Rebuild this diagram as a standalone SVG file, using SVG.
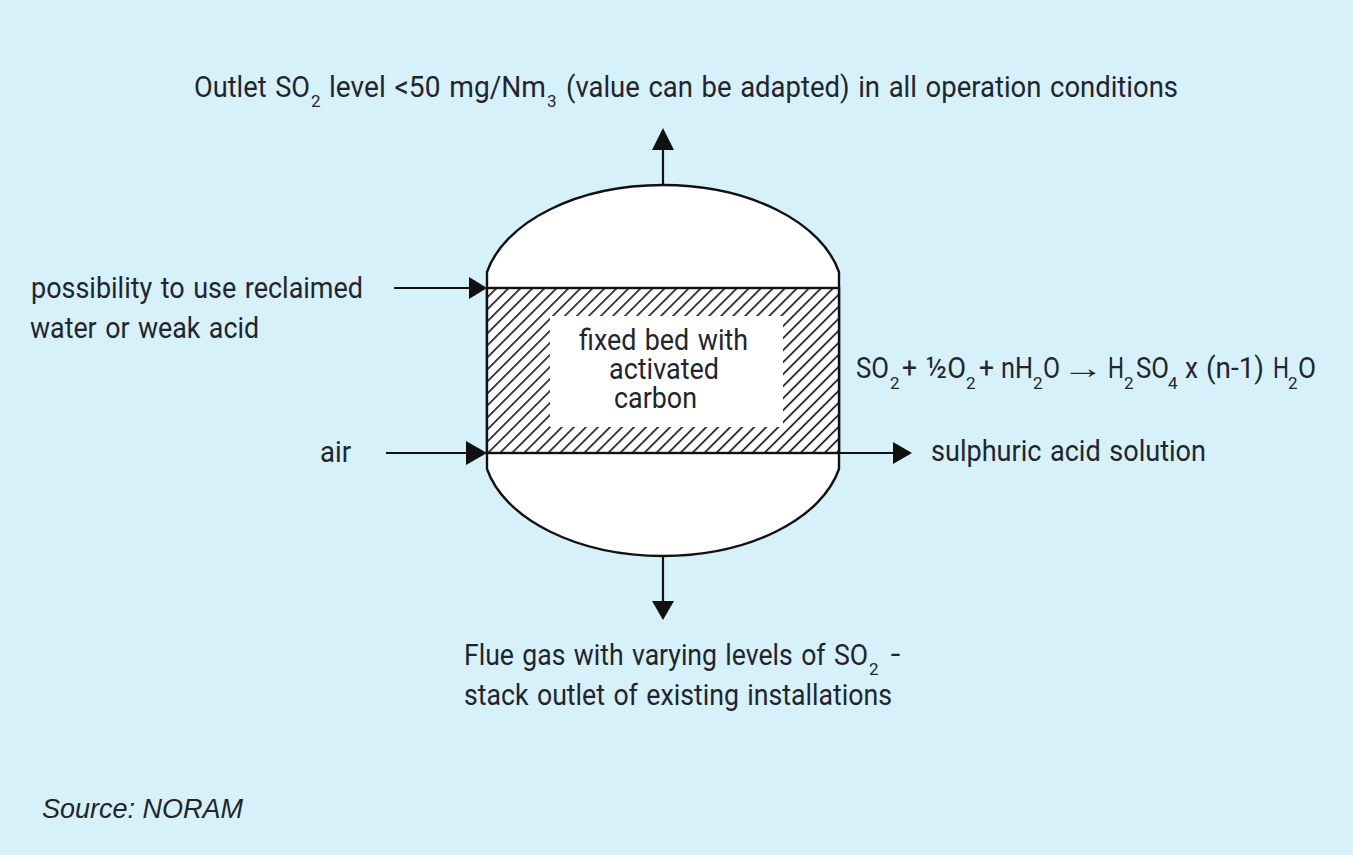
<svg xmlns="http://www.w3.org/2000/svg" width="1353" height="855" viewBox="0 0 1353 855">
<style>
.t{font-family:Roboto,"Liberation Sans",Arial,sans-serif;font-size:29.5px;fill:#22252e;word-spacing:2px}
.s{font-size:17px}
.v{stroke:#111;stroke-width:2.4px;fill:#fff}
.c{stroke:#111;stroke-width:2.2px;fill:none}
.h{fill:#111;stroke:none}
</style>
<defs>
<pattern id="hatch" patternUnits="userSpaceOnUse" width="8.5" height="8.5" patternTransform="rotate(45 487 288)">
<rect width="8.5" height="8.5" fill="#fff"/>
<line x1="0" y1="0" x2="0" y2="8.5" stroke="#111" stroke-width="3.2"/>
</pattern>
</defs>
<rect width="1353" height="855" fill="#d7f1fb"/>
<g id="vessel">
<path class="v" d="M487 272A180 110 0 0 1 839 272V469A180 110 0 0 1 487 469Z"/>
<rect x="487" y="288" width="352" height="165" fill="url(#hatch)" stroke="#111" stroke-width="2.4"/>
<rect x="550" y="316" width="233" height="111" fill="#fff"/>
<text class="t" x="579" y="350" textLength="169" lengthAdjust="spacingAndGlyphs">fixed bed with</text>
<text class="t" x="609" y="379" textLength="110" lengthAdjust="spacingAndGlyphs">activated</text>
<text class="t" x="614" y="408" textLength="83" lengthAdjust="spacingAndGlyphs">carbon</text>
</g>
<g id="connectors">
<line class="c" x1="663" y1="185" x2="663" y2="148"/><polygon class="h" points="663,128 674,150 652,150"/>
<line class="c" x1="394" y1="288" x2="472" y2="288"/><polygon class="h" points="487,288 469,277 469,299"/>
<line class="c" x1="386" y1="453" x2="470" y2="453"/><polygon class="h" points="487,453 466,441 466,465"/>
<line class="c" x1="839" y1="453" x2="896" y2="453"/><polygon class="h" points="912,453 893,442 893,464"/>
<line class="c" x1="663" y1="556" x2="663" y2="604"/><polygon class="h" points="663,620 652,601 674,601"/>
</g>
<g id="outlet-label"><text class="t" y="97"><tspan x="194" textLength="116" lengthAdjust="spacingAndGlyphs">Outlet SO</tspan><tspan class="s" x="311" y="107">2</tspan><tspan x="329" y="97" textLength="217" lengthAdjust="spacingAndGlyphs">level &lt;50 mg/Nm</tspan><tspan class="s" x="547" y="107">3</tspan><tspan x="566" y="97" textLength="612" lengthAdjust="spacingAndGlyphs">(value can be adapted) in all operation conditions</tspan></text></g>
<g id="water-label">
<text class="t" x="31" y="298" textLength="332" lengthAdjust="spacingAndGlyphs">possibility to use reclaimed</text>
<text class="t" x="30" y="338" textLength="229" lengthAdjust="spacingAndGlyphs">water or weak acid</text>
</g>
<g id="air-label"><text class="t" x="320" y="462" textLength="31" lengthAdjust="spacingAndGlyphs">air</text></g>
<g id="reaction-label"><text class="t" y="378"><tspan x="856" textLength="33" lengthAdjust="spacingAndGlyphs">SO</tspan><tspan class="s" x="890" y="389">2</tspan><tspan x="902" y="378" textLength="15" lengthAdjust="spacingAndGlyphs">+</tspan><tspan x="926" textLength="40" lengthAdjust="spacingAndGlyphs">½O</tspan><tspan class="s" x="966" y="389">2</tspan><tspan x="979" y="378" textLength="15" lengthAdjust="spacingAndGlyphs">+</tspan><tspan x="1001" textLength="32" lengthAdjust="spacingAndGlyphs">nH</tspan><tspan class="s" x="1033" y="389">2</tspan><tspan x="1043" y="378" textLength="17" lengthAdjust="spacingAndGlyphs">O</tspan><tspan x="1062" textLength="42" lengthAdjust="spacingAndGlyphs">→</tspan><tspan x="1108" textLength="16" lengthAdjust="spacingAndGlyphs">H</tspan><tspan class="s" x="1124" y="389">2</tspan><tspan x="1136" y="378" textLength="33" lengthAdjust="spacingAndGlyphs">SO</tspan><tspan class="s" x="1168" y="389">4</tspan><tspan x="1185" y="378" textLength="13" lengthAdjust="spacingAndGlyphs">x</tspan><tspan x="1206" textLength="58" lengthAdjust="spacingAndGlyphs">(n-1)</tspan><tspan x="1273" textLength="16" lengthAdjust="spacingAndGlyphs">H</tspan><tspan class="s" x="1288" y="389">2</tspan><tspan x="1298" y="378" textLength="18" lengthAdjust="spacingAndGlyphs">O</tspan></text></g>
<g id="acid-label"><text class="t" x="931" y="461" textLength="275" lengthAdjust="spacingAndGlyphs">sulphuric acid solution</text></g>
<g id="flue-label">
<text class="t" y="665"><tspan x="464" textLength="404" lengthAdjust="spacingAndGlyphs">Flue gas with varying levels of SO</tspan><tspan class="s" x="869" y="675">2</tspan><tspan x="890" y="665" textLength="11" lengthAdjust="spacingAndGlyphs">–</tspan></text>
<text class="t" x="464" y="705" textLength="428" lengthAdjust="spacingAndGlyphs">stack outlet of existing installations</text>
</g>
<g id="source"><text x="42" y="818" font-family="Liberation Sans,Arial,sans-serif" font-style="italic" font-size="27" fill="#22252e">Source: NORAM</text></g>
</svg>
